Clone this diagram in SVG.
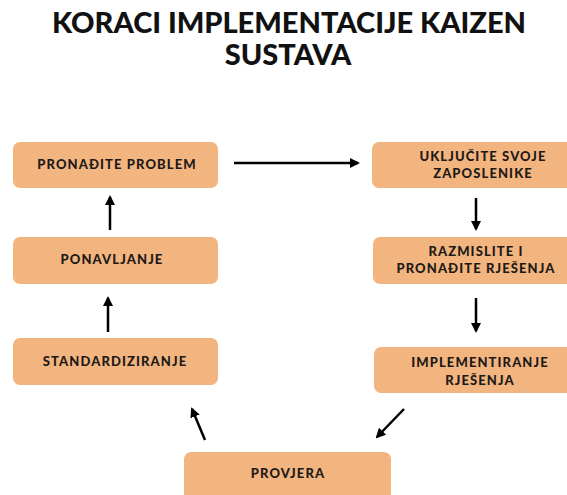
<svg xmlns="http://www.w3.org/2000/svg" width="567" height="495" viewBox="0 0 567 495">
<style>
.box{fill:#f3b57f}
.t{font-family:Lato,"Liberation Sans",sans-serif;font-weight:900;font-size:13px;letter-spacing:1.1px;fill:#1e1a17;text-anchor:middle}
.title{font-family:Lato,"Liberation Sans",sans-serif;font-weight:900;font-size:29px;fill:#111;text-anchor:middle}
.c{stroke:#000;stroke-width:2.5;fill:none;marker-end:url(#ah)}
</style>
<defs>
<marker id="ah" viewBox="0 0 10 10" refX="8" refY="5" markerWidth="4" markerHeight="4" orient="auto" markerUnits="strokeWidth">
<path d="M0,0 L10,5 L0,10 z" fill="#000"/>
</marker>
</defs>
<rect width="567" height="495" fill="#fff"/>
<text class="title" x="289" y="33">KORACI IMPLEMENTACIJE KAIZEN</text>
<text class="title" x="288" y="65">SUSTAVA</text>
<g id="n1"><rect class="box" x="13" y="142" width="205" height="46" rx="7"/><text class="t" x="117" y="169">PRONAĐITE PROBLEM</text></g>
<g id="n2"><rect class="box" x="372" y="142" width="210" height="46" rx="7"/><text class="t" x="483" y="161">UKLJUČITE SVOJE</text><text class="t" x="483" y="178">ZAPOSLENIKE</text></g>
<g id="n3"><rect class="box" x="373" y="237" width="210" height="47" rx="7"/><text class="t" x="476" y="256">RAZMISLITE I</text><text class="t" x="476" y="273">PRONAĐITE RJEŠENJA</text></g>
<g id="n4"><rect class="box" x="374" y="347" width="210" height="46" rx="7"/><text class="t" x="480" y="367">IMPLEMENTIRANJE</text><text class="t" x="480" y="385">RJEŠENJA</text></g>
<g id="n5"><rect class="box" x="184" y="452" width="207" height="50" rx="7"/><text class="t" x="288" y="478">PROVJERA</text></g>
<g id="n6"><rect class="box" x="13" y="338" width="205" height="47" rx="7"/><text class="t" x="115" y="366">STANDARDIZIRANJE</text></g>
<g id="n7"><rect class="box" x="13" y="237" width="205" height="47" rx="7"/><text class="t" x="112" y="264">PONAVLJANJE</text></g>
<g id="connectors">
<line class="c" x1="234" y1="163" x2="358" y2="163"/>
<line class="c" x1="476" y1="198" x2="476" y2="229"/>
<line class="c" x1="476" y1="298" x2="476" y2="331"/>
<line class="c" x1="404" y1="409" x2="377" y2="437"/>
<line class="c" x1="205" y1="440" x2="192" y2="409"/>
<line class="c" x1="108" y1="332" x2="108" y2="298"/>
<line class="c" x1="110" y1="230" x2="110" y2="197"/>
</g>
</svg>
